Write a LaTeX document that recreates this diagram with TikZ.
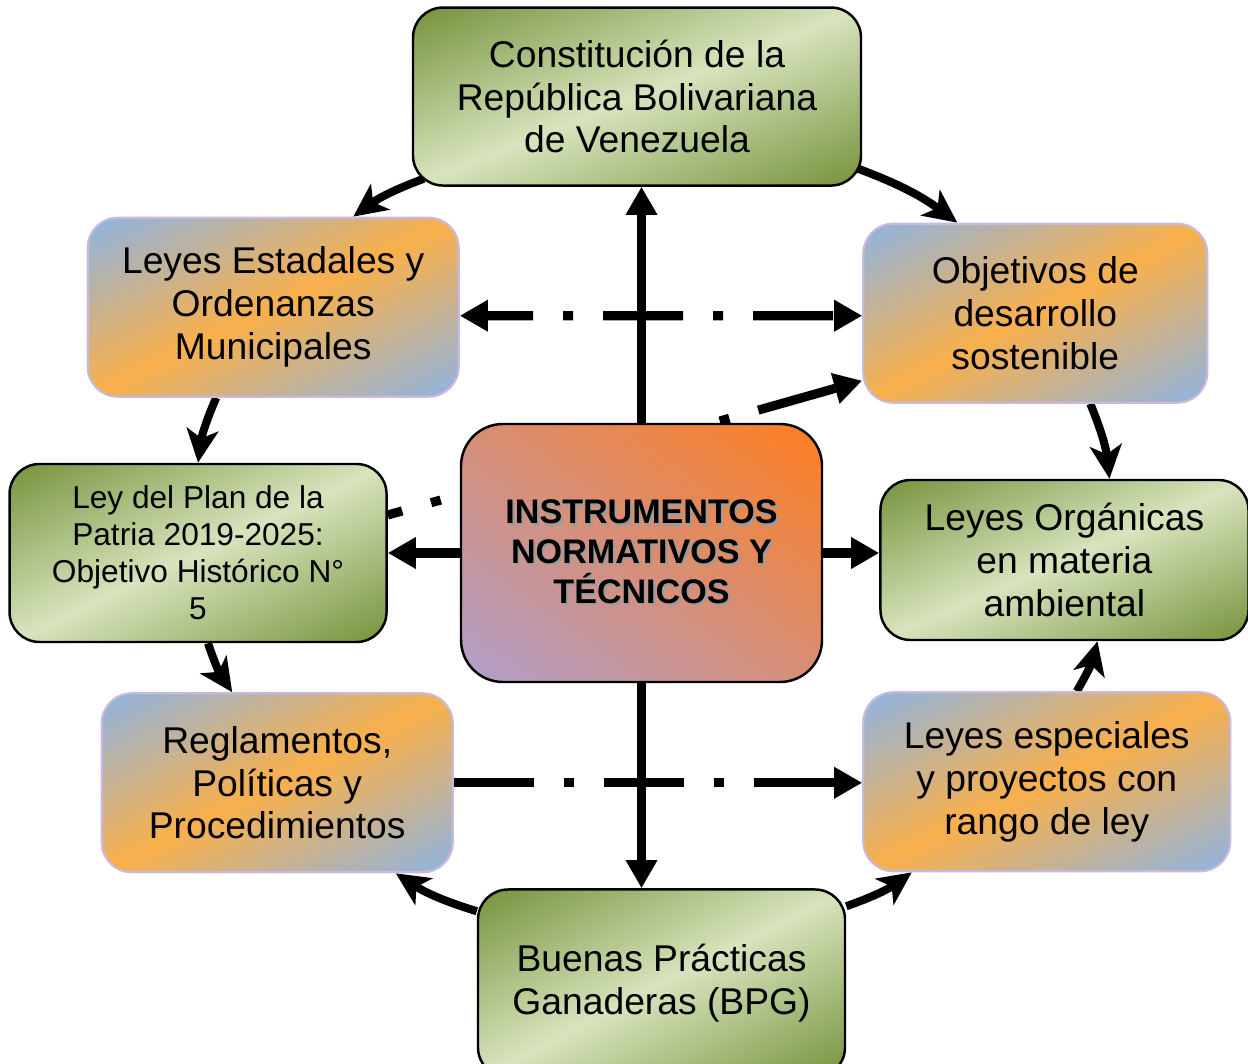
\documentclass[tikz,border=0pt]{standalone}
\usepackage{fontspec}
\setmainfont{Liberation Sans}
\usetikzlibrary{positioning}
\usetikzlibrary{arrows.meta, backgrounds}

\definecolor{lav}{HTML}{C9B9DF}
\definecolor{shgray}{HTML}{9C9C9C}

% diagonal fills: dark corners, light band along the other diagonal
\pgfdeclarefunctionalshading{greendiag}{\pgfpoint{0bp}{0bp}}{\pgfpoint{100bp}{100bp}}{}{
  75 exch sub exch 25 sub add 100 div 2 mul 1 sub abs 1 exch sub
  dup 0.380 mul 0.463 add exch
  dup 0.321 mul 0.573 add exch
  0.506 mul 0.235 add}
\pgfdeclarefunctionalshading{orangediag}{\pgfpoint{0bp}{0bp}}{\pgfpoint{100bp}{100bp}}{}{
  75 exch sub exch 25 sub add 100 div 2 mul 1 sub abs 1 exch sub
  dup 0.419 mul 0.557 add exch
  dup -0.016 mul 0.706 add exch
  -0.596 mul 0.890 add}
\pgfdeclarefunctionalshading{centerdiag}{\pgfpoint{0bp}{0bp}}{\pgfpoint{100bp}{100bp}}{}{
  add 50 sub 100 div
  dup 0.310 mul 0.690 add exch
  dup -0.130 mul 0.624 add exch
  -0.678 mul 0.800 add}

\newcommand{\shtext}[1]{\leavevmode\rlap{\kern0.6pt\raisebox{-0.6pt}{\color{shgray}#1}}#1}

\begin{document}
\begin{tikzpicture}[>={Triangle[length=8pt,width=8.5pt]},
    every node/.style={shape=rectangle,rounded corners=0.3cm,align=center,inner sep=0pt,font=\fontsize{10.6}{12.2}\selectfont},
    greenbox/.style={draw=black,line width=0.7pt,shade,shading=greendiag},
    bluebox/.style={draw=lav,line width=0.6pt,shade,shading=orangediag},
    flow/.style={->,line width=2.6pt},
    ring/.style={-{Stealth[length=9.5pt,width=9pt,inset=2.5pt]},line width=2.3pt},
    dashdot/.style={line width=2.6pt,dash pattern=on 0.8cm off 0.3cm on 0.1cm off 0.3cm}]
    \useasboundingbox (0,0) rectangle (12.48,-10.63);
    % create the nodes
    \node[draw=black,line width=0.7pt,rounded corners=0.42cm,minimum width=3.61cm,minimum height=2.58cm,
          shade,shading=centerdiag,font=\fontsize{9.7}{11.3}\selectfont\bfseries] (instr) at (6.415,-5.53)
          {\shtext{INSTRUMENTOS}\\ \shtext{NORMATIVOS Y}\\ \shtext{TÉCNICOS}};
    \node[greenbox,minimum width=4.48cm,minimum height=1.78cm] (const)[above =2.36cm of instr,xshift=-0.045cm]
          {Constitución de la\\ República Bolivariana\\ de Venezuela};
    \node[bluebox,minimum width=3.71cm,minimum height=1.79cm] (estad)[above left =0.25cm and 0cm of instr]
          {Leyes Estadales y\\ Ordenanzas\\ Municipales};
    \node[bluebox,minimum width=3.44cm,minimum height=1.79cm] (ods)[above right =0.19cm and 0.39cm of instr]
          {Objetivos de\\ desarrollo\\ sostenible};
    \node[greenbox,minimum width=3.77cm,minimum height=1.78cm,font=\fontsize{9}{10.5}\selectfont] (plan)[left =0.72cm of instr]
          {Ley del Plan de la\\ Patria 2019-2025:\\ Objetivo Histórico N°\\ 5};
    \node[greenbox,minimum width=3.68cm,minimum height=1.60cm] (organ)[right =0.56cm of instr,yshift=-0.07cm]
          {Leyes Orgánicas\\ en materia\\ ambiental};
    \node[bluebox,minimum width=3.51cm,minimum height=1.79cm] (regl)[below left =0.09cm and 0.06cm of instr]
          {Reglamentos,\\ Políticas y\\ Procedimientos};
    \node[bluebox,minimum width=3.67cm,minimum height=1.79cm] (espec)[below right =0.08cm and 0.39cm of instr]
          {Leyes especiales\\ y proyectos con\\ rango de ley};
    \node[greenbox,minimum width=3.67cm,minimum height=1.88cm] (bpg)[below =2.05cm of instr,xshift=0.2cm]
          {Buenas Prácticas\\ Ganaderas (BPG)};
    % connectors behind the boxes
    \begin{pgfonlayer}{background}
        \draw[flow] (instr.west) -- (instr.west -| plan.east);
        \draw[flow] (instr.east) -- (instr.east -| organ.west);
        \draw[flow] (instr.north) -- (instr.north |- const.south);
        \draw[flow] (instr.south) -- (instr.south |- bpg.north);
        \draw[dashdot,<->,dash phase=0.33cm] ([yshift=-0.085cm]estad.east) -- ([yshift=-0.025cm]ods.west);
        \draw[dashdot,->] (regl.east) -- (regl.east -| espec.west);
        \draw[dashdot,->,dash phase=0.65cm] ([yshift=0.38cm]plan.east) -- ([yshift=-0.675cm]ods.west);
        \draw[ring] ([shift={(0.12cm,0.08cm)}]const.south west) to[bend right=8] ([xshift=0.8cm]estad.north);
        \draw[ring] ([shift={(-0.04cm,0.18cm)}]const.south east) to[bend left=8] ([xshift=-0.78cm]ods.north);
        \draw[ring] ([xshift=0.55cm]ods.south) to[bend left=8] ([xshift=0.45cm]organ.north);
        \draw[ring] ([xshift=0.3cm]espec.north) to[bend right=8] ([xshift=0.33cm]organ.south);
        \draw[ring] ([yshift=-0.18cm]bpg.north east) to[bend right=8] ([xshift=-1.35cm]espec.south);
        \draw[ring] ([yshift=-0.23cm]bpg.north west) to[bend left=8] ([xshift=-0.58cm]regl.south east);
        \draw[ring] ([xshift=0.1cm]plan.south) to[bend right=8] ([xshift=-0.45cm]regl.north);
        \draw[ring] ([xshift=-0.57cm]estad.south) to[bend right=8] (plan.north);
    \end{pgfonlayer}
\end{tikzpicture}
\end{document}
